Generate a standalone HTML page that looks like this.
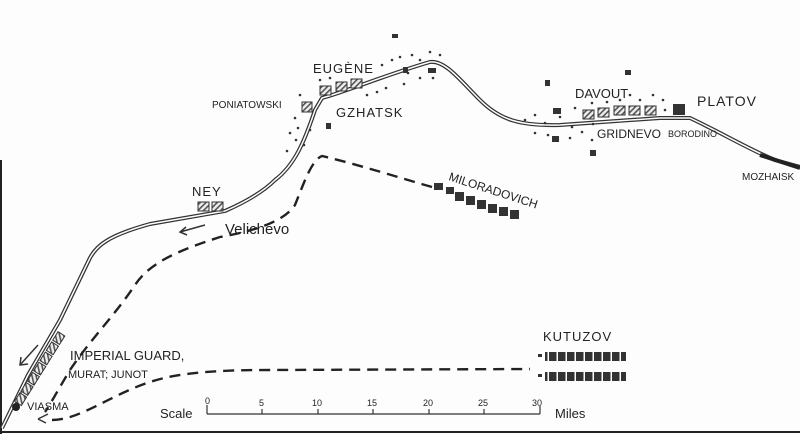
<!DOCTYPE html>
<html><head><meta charset="utf-8"><style>
html,body{margin:0;padding:0;background:#fff;}
svg{display:block;}
text{font-family:"Liberation Sans",sans-serif;fill:#222;}
</style></head><body>
<svg width="800" height="434" viewBox="0 0 800 434" xmlns="http://www.w3.org/2000/svg">
<defs>
<pattern id="h" width="4" height="4" patternUnits="userSpaceOnUse" patternTransform="rotate(45)">
<rect width="4" height="4" fill="#eee"/><rect width="1.6" height="4" fill="#555"/></pattern>
<pattern id="d" width="9" height="9" patternUnits="userSpaceOnUse">
<rect width="9" height="9" fill="#333"/><rect x="7.5" width="1.5" height="9" fill="#fdfdfd"/></pattern>
<path id="road" d="M2,428 L28,375 L60,320 L88,262 C95,245 110,235 150,224 L225,211 C250,200 265,190 275,180 C295,165 305,140 315,110 L322,98 C345,92 385,75 430,62 C445,60 460,80 480,100 C500,120 520,126 560,125 L660,118 L690,118 C720,132 750,150 775,160 L800,167"/>
</defs>
<rect width="800" height="434" fill="#fdfdfd"/>
<line x1="1" y1="160" x2="1" y2="434" stroke="#222" stroke-width="2"/>
<line x1="0" y1="432" x2="800" y2="432" stroke="#222" stroke-width="2"/>
<use href="#road" fill="none" stroke="#333" stroke-width="4"/>
<use href="#road" fill="none" stroke="#fdfdfd" stroke-width="1.5"/>
<path d="M760,155 L800,168" stroke="#222" stroke-width="4"/>
<g fill="none" stroke="#222" stroke-width="2.4" stroke-dasharray="11,7">
<path d="M432,187 C400,178 360,165 322,156 C312,160 305,180 295,205 C285,220 260,230 220,237 C180,250 150,262 135,285 C115,315 90,340 70,370 C55,395 50,405 45,412"/>
<path d="M52,420 C80,420 110,395 150,382 C180,372 220,370 270,370 L530,369"/>
</g>
<g stroke="#333" stroke-width="1.5" fill="none">
<path d="M205,225 L180,232 M186,227 L180,232 L187,235"/>
<path d="M38,345 L20,365 M21,357 L20,365 L28,364"/>
<path d="M38,419 L48,414 M38,419 L46,423"/>
</g>
<g fill="url(#h)" stroke="#333" stroke-width="1">
<rect x="198" y="202" width="11" height="9"/><rect x="212" y="202" width="11" height="9"/>
<rect x="320" y="86" width="11" height="9"/><rect x="336" y="82" width="11" height="9"/><rect x="351" y="79" width="11" height="9"/>
<rect x="302" y="102" width="10" height="10"/>
<rect x="583" y="110" width="11" height="9"/><rect x="598" y="108" width="11" height="9"/><rect x="614" y="106" width="11" height="9"/><rect x="629" y="106" width="11" height="9"/><rect x="645" y="106" width="11" height="9"/>
<g transform="rotate(-58 40 370)">
<rect x="0" y="365" width="10" height="8"/><rect x="12" y="365" width="10" height="8"/><rect x="24" y="365" width="10" height="8"/><rect x="36" y="365" width="10" height="8"/><rect x="48" y="365" width="10" height="8"/><rect x="60" y="365" width="10" height="8"/><rect x="72" y="365" width="10" height="8"/></g>
</g>
<circle cx="16" cy="407" r="4" fill="#222"/>
<g fill="#333">
<rect x="673" y="104" width="12" height="11"/>
<rect x="545" y="352" width="81" height="9" fill="url(#d)"/><rect x="545" y="372" width="81" height="9" fill="url(#d)"/>
<rect x="538" y="354" width="4" height="3"/><rect x="538" y="374" width="4" height="3"/>
<rect x="434" y="183" width="9" height="7"/><rect x="446" y="187" width="8" height="7"/>
<rect x="455" y="192" width="9" height="9"/><rect x="466" y="196" width="9" height="9"/><rect x="477" y="200" width="9" height="9"/><rect x="488" y="204" width="9" height="9"/><rect x="499" y="207" width="9" height="9"/><rect x="510" y="210" width="9" height="9"/>
<rect x="428" y="68" width="8" height="5"/><rect x="392" y="34" width="6" height="4"/><rect x="545" y="80" width="5" height="6"/><rect x="625" y="70" width="6" height="5"/><rect x="552" y="136" width="7" height="6"/><rect x="590" y="150" width="6" height="6"/><rect x="326" y="123" width="5" height="6"/><rect x="403" y="67" width="5" height="6"/><rect x="553" y="108" width="8" height="6"/>
</g>
<g fill="#333">
<circle cx="300" cy="95" r="1.3"/><circle cx="295" cy="118" r="1.3"/><circle cx="298" cy="128" r="1.3"/><circle cx="290" cy="133" r="1.3"/><circle cx="296" cy="140" r="1.3"/><circle cx="287" cy="151" r="1.3"/><circle cx="304" cy="145" r="1.3"/><circle cx="310" cy="130" r="1.3"/><circle cx="320" cy="80" r="1.3"/><circle cx="330" cy="78" r="1.3"/><circle cx="367" cy="95" r="1.3"/><circle cx="377" cy="92" r="1.3"/><circle cx="386" cy="88" r="1.3"/><circle cx="382" cy="65" r="1.3"/><circle cx="392" cy="60" r="1.3"/><circle cx="400" cy="57" r="1.3"/><circle cx="412" cy="55" r="1.3"/><circle cx="420" cy="60" r="1.3"/><circle cx="430" cy="52" r="1.3"/><circle cx="408" cy="73" r="1.3"/><circle cx="420" cy="78" r="1.3"/><circle cx="433" cy="78" r="1.3"/><circle cx="440" cy="55" r="1.3"/><circle cx="404" cy="84" r="1.3"/>
<circle cx="525" cy="120" r="1.3"/><circle cx="535" cy="115" r="1.3"/><circle cx="545" cy="123" r="1.3"/><circle cx="535" cy="133" r="1.3"/><circle cx="548" cy="135" r="1.3"/><circle cx="560" cy="117" r="1.3"/><circle cx="570" cy="138" r="1.3"/><circle cx="575" cy="108" r="1.3"/><circle cx="582" cy="132" r="1.3"/><circle cx="592" cy="103" r="1.3"/><circle cx="593" cy="124" r="1.3"/><circle cx="607" cy="102" r="1.3"/><circle cx="620" cy="100" r="1.3"/><circle cx="630" cy="95" r="1.3"/><circle cx="640" cy="100" r="1.3"/><circle cx="653" cy="95" r="1.3"/><circle cx="663" cy="100" r="1.3"/><circle cx="665" cy="110" r="1.3"/><circle cx="592" cy="140" r="1.3"/><circle cx="572" cy="127" r="1.3"/>
</g>
<g font-size="12">
<text x="313" y="73" font-size="13" letter-spacing="1">EUGÈNE</text>
<text x="212" y="108" font-size="10">PONIATOWSKI</text>
<text x="336" y="117" font-size="13" letter-spacing="1">GZHATSK</text>
<text x="192" y="196" font-size="13" letter-spacing="1">NEY</text>
<text x="225" y="234" font-size="15">Velichevo</text>
<text x="575" y="98" font-size="13">DAVOUT</text>
<text x="697" y="106" font-size="14" letter-spacing="1">PLATOV</text>
<text x="597" y="138" font-size="12">GRIDNEVO</text>
<text x="668" y="137" font-size="9">BORODINO</text>
<text x="742" y="180" font-size="10">MOZHAISK</text>
<text x="448" y="180" font-size="12" transform="rotate(18 448 180)">MILORADOVICH</text>
<text x="543" y="341" font-size="13" letter-spacing="1">KUTUZOV</text>
<text x="70" y="360" font-size="13">IMPERIAL GUARD,</text>
<text x="68" y="378" font-size="11">MURAT;  JUNOT</text>
<text x="27" y="410" font-size="11">VIASMA</text>
<text x="160" y="418" font-size="13" font-family="Liberation Serif,serif">Scale</text>
<text x="555" y="418" font-size="13" fill="#555">Miles</text>
</g>
<g stroke="#333" stroke-width="1.2">
<line x1="207" y1="414" x2="540" y2="414"/>
<line x1="207" y1="405" x2="207" y2="414"/><line x1="540" y1="406" x2="540" y2="414"/>
<line x1="262" y1="409" x2="262" y2="414"/><line x1="318" y1="409" x2="318" y2="414"/><line x1="373" y1="409" x2="373" y2="414"/><line x1="429" y1="409" x2="429" y2="414"/><line x1="484" y1="409" x2="484" y2="414"/>
</g>
<g font-size="9">
<text x="205" y="404">0</text><text x="259" y="406">5</text><text x="312" y="406">10</text><text x="367" y="406">15</text><text x="423" y="406">20</text><text x="478" y="406">25</text><text x="532" y="406">30</text>
</g>
</svg>
</body></html>
